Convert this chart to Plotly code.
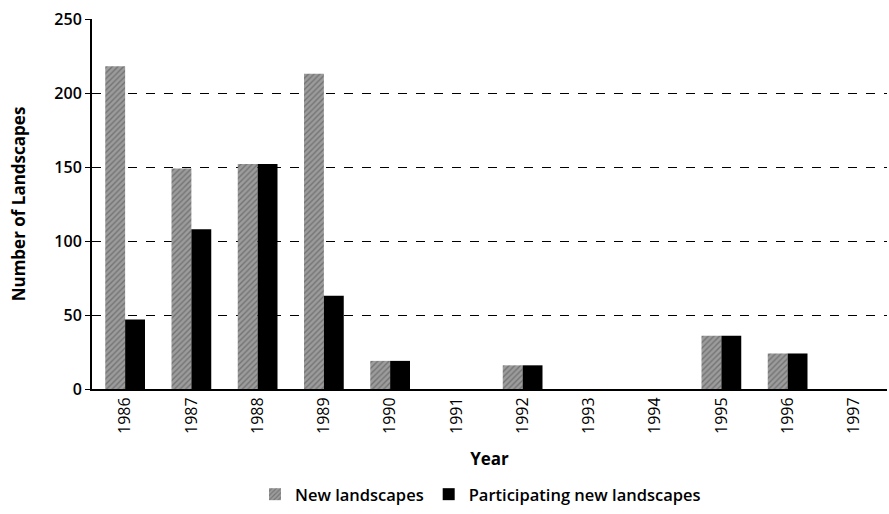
import plotly.graph_objects as go

years = ["1986", "1987", "1988", "1989", "1990", "1991",
         "1992", "1993", "1994", "1995", "1996", "1997"]
new_landscapes = [218, 149, 152, 213, 19, 0, 16, 0, 0, 36, 24, 0]
participating_new = [47, 108, 152, 63, 19, 0, 16, 0, 0, 36, 24, 0]
y_ticks = [0, 50, 100, 150, 200, 250]

FONT = "Open Sans, Arial, sans-serif"

fig = go.Figure()
fig.add_trace(go.Bar(
    x=years, y=new_landscapes, name="New landscapes",
    marker=dict(color="#9c9c9c", line=dict(width=0),
                pattern=dict(shape="/", fgcolor="#4a4a4a", size=4, solidity=0.35)),
))
fig.add_trace(go.Bar(
    x=years, y=participating_new, name="Participating new landscapes",
    marker=dict(color="#000000", line=dict(width=0)),
))

fig.update_layout(
    width=889, height=514,
    margin=dict(l=92, r=2, t=19, b=121),
    paper_bgcolor="white", plot_bgcolor="white",
    barmode="group", bargap=0.4, bargroupgap=0.0,
    font=dict(family=FONT, color="black", size=15),
    showlegend=True,
    legend=dict(orientation="h", x=0.205, xanchor="left", y=-0.285, yanchor="middle",
                font=dict(size=16.5, family=FONT, weight=600), itemwidth=30,
                traceorder="normal"),
)

fig.update_xaxes(
    type="category", tickangle=-90, showgrid=False, automargin=False,
    showline=True, linecolor="black", linewidth=2,
    ticks="", tickfont=dict(size=16, family=FONT),
    title=dict(text="<b>Year</b>", font=dict(size=17, family=FONT), standoff=20),
)
fig.update_yaxes(
    range=[0, 250], tickvals=y_ticks, ticktext=[str(v) for v in y_ticks],
    automargin=False,
    showline=True, linecolor="black", linewidth=2,
    showgrid=True, gridcolor="black", griddash="dash", gridwidth=1,
    ticks="outside", ticklen=5, tickcolor="black",
    tickfont=dict(size=16, family=FONT, weight=600),
    zeroline=False,
    title=dict(text="<b>Number of Landscapes</b>", font=dict(size=17, family=FONT), standoff=24),
)

fig.write_html("out.html")
